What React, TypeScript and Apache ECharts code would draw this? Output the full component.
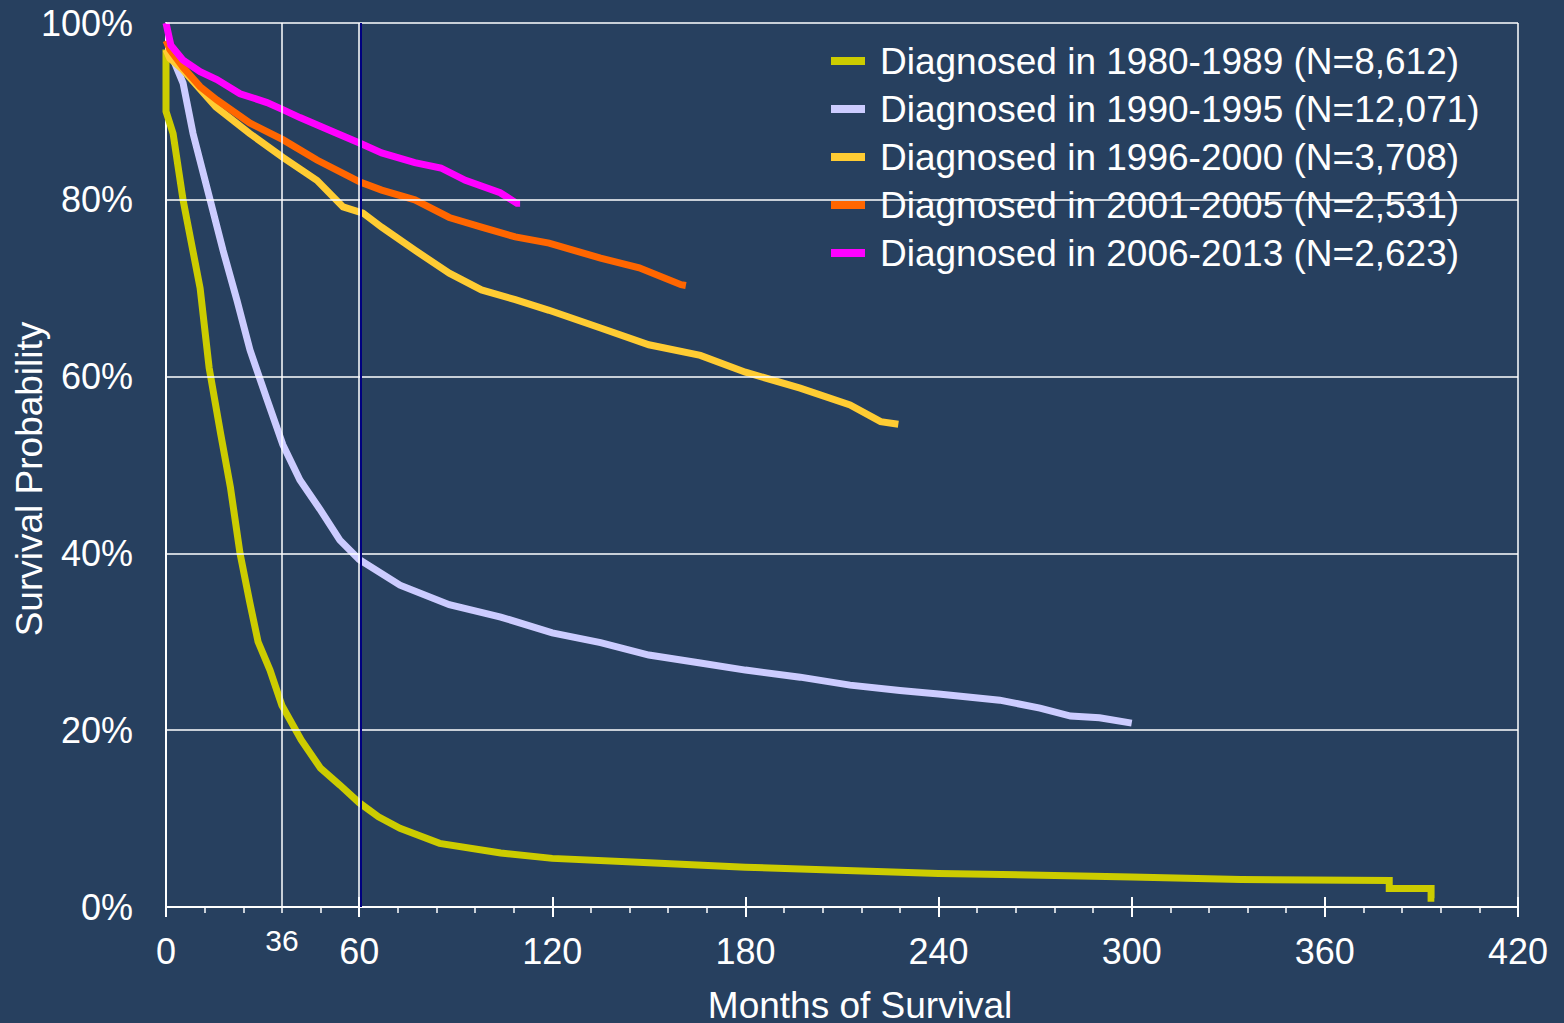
import React, { useEffect, useRef } from "react";
import * as echarts from "echarts";

const seriesNames = [
  "Diagnosed in 1980-1989 (N=8,612)",
  "Diagnosed in 1990-1995 (N=12,071)",
  "Diagnosed in 1996-2000 (N=3,708)",
  "Diagnosed in 2001-2005 (N=2,531)",
  "Diagnosed in 2006-2013 (N=2,623)",
];
const colors = ["#CCCC00", "#CCCCFF", "#FFCC33", "#FF6600", "#FF00FF"];

const months1980 = [0, 0, 2.2, 5.3, 10.6, 13.4, 17, 20, 23, 26, 28.6, 32.3, 36, 42, 48, 54, 60, 66, 72.7, 85, 104, 120, 150, 180, 240, 300, 334, 380, 380, 393, 393, 394];
const surv1980 = [97, 90, 87.5, 80, 70, 61, 53.5, 47.5, 40, 34.5, 30, 26.8, 22.8, 18.9, 15.7, 13.8, 11.8, 10.2, 8.9, 7.2, 6.1, 5.5, 5.0, 4.5, 3.8, 3.4, 3.1, 3.0, 2.1, 2.1, 1.0, 1.0];

const months1990 = [0, 1.2, 5.3, 8.4, 13.7, 17.7, 22, 26.1, 31.4, 36.3, 41.6, 47.8, 54, 60, 72.7, 88, 104, 120, 135, 150, 166, 180, 197, 212.5, 228, 240, 259, 271.5, 281, 290, 300];
const surv1990 = [97, 96.8, 93.2, 87.5, 80, 74.3, 68.7, 63, 57.4, 52.3, 48.3, 45, 41.5, 39.3, 36.4, 34.2, 32.8, 31, 29.9, 28.5, 27.6, 26.8, 26, 25.1, 24.5, 24.1, 23.4, 22.5, 21.6, 21.4, 20.8];

const months1996 = [0, 1.2, 5.3, 10.6, 15.5, 26, 36.3, 46.9, 55, 61.2, 67, 77.3, 88, 98, 108.5, 119, 135, 150, 166, 180, 197, 212.5, 222, 227.5];
const surv1996 = [97, 96, 94.7, 92.5, 90.5, 87.5, 84.8, 82.2, 79.2, 78.5, 76.9, 74.3, 71.7, 69.8, 68.7, 67.5, 65.5, 63.6, 62.4, 60.5, 58.7, 56.8, 54.9, 54.6];

const months2001 = [0, 1.2, 5.3, 10.6, 15.8, 26, 36.3, 46.9, 60.3, 67, 77.3, 88, 98, 108.5, 119, 135, 147, 160, 161.5];
const surv2001 = [98, 97, 95, 92.8, 91.3, 88.7, 86.8, 84.5, 82, 81.1, 80, 78, 76.9, 75.8, 75.1, 73.4, 72.3, 70.4, 70.3];

const months2006 = [0, 1.5, 5.3, 10.6, 15.8, 23, 31.4, 36.3, 41.6, 51.9, 60.3, 67, 77.3, 85.4, 93, 103.8, 109, 110];
const surv2006 = [100, 97.5, 95.8, 94.5, 93.6, 92, 91, 90.2, 89.3, 87.7, 86.4, 85.3, 84.2, 83.6, 82.2, 80.8, 79.6, 79.6];

const allMonths = [months1980, months1990, months1996, months2001, months2006];
const allSurv = [surv1980, surv1990, surv1996, surv2001, surv2006];

const yTicks = [20, 40, 60, 80, 100];
const markedMonths = [36, 60, 420];

const FONT = "'Liberation Sans', Arial, sans-serif";
const BG = "#27405F";

export default function App() {
  const ref = useRef<HTMLDivElement>(null);
  useEffect(() => {
    const chart = echarts.init(ref.current!, null, { renderer: "svg" });
    const dataSeries = seriesNames.map((name, i) => ({
      name,
      type: "line",
      data: allMonths[i].map((m, j) => [m, allSurv[i][j]]),
      showSymbol: false,
      symbol: "none",
      color: colors[i],
      lineStyle: { color: colors[i], width: 7, cap: "butt", join: "miter" },
      z: 2 + i * 0.01,
    }));
    const gridSeries = {
      name: "grid",
      type: "line",
      data: [],
      z: 10,
      silent: true,
      markLine: {
        silent: true,
        symbol: ["none", "none"],
        label: { show: false },
        lineStyle: { color: "#FFFFFF", width: 1.5, type: "solid" },
        data: [
          ...yTicks.map((v) => ({ yAxis: v })),
          ...markedMonths.map((v) => ({ xAxis: v })),
          { xAxis: 60.6, lineStyle: { color: "#000080", width: 2, type: "solid" } },
        ],
      },
    };
    const option: any = {
      animation: false,
      backgroundColor: BG,
      textStyle: { fontFamily: FONT },
      grid: {
        left: 166,
        top: 23,
        right: 46,
        bottom: 116,
        containLabel: false,
        outerBoundsMode: "none",
      },
      legend: {
        data: seriesNames,
        orient: "vertical",
        left: 826,
        top: 36,
        itemWidth: 34,
        itemHeight: 8,
        itemGap: 8,
        icon: "rect",
        z: 1,
        selectedMode: false,
        textStyle: {
          color: "#FFFFFF",
          fontSize: 37,
          fontFamily: FONT,
          lineHeight: 40,
          padding: [0, 0, 0, 10],
        },
      },
      xAxis: [
        {
          type: "value",
          min: 0,
          max: 420,
          interval: 60,
          position: "bottom",
          axisLine: { show: true, lineStyle: { color: "#FFFFFF", width: 2 } },
          axisTick: { show: true, length: 10, lineStyle: { color: "#FFFFFF", width: 2 } },
          minorTick: { show: true, splitNumber: 5, length: 6, lineStyle: { color: "#FFFFFF", width: 1.5 } },
          splitLine: { show: false },
          axisLabel: { color: "#FFFFFF", fontSize: 36, margin: 26, fontFamily: FONT },
          name: "Months of Survival",
          nameLocation: "middle",
          nameGap: 80,
          nameTextStyle: { color: "#FFFFFF", fontSize: 37, fontFamily: FONT, padding: [0, 0, 0, 36] },
        },
        {
          type: "value",
          min: 0,
          max: 420,
          interval: 60,
          position: "bottom",
          axisLine: { show: false },
          axisTick: { show: true, inside: true, length: 10, lineStyle: { color: "#FFFFFF", width: 2 } },
          splitLine: { show: false },
          axisLabel: { show: false },
        },
        {
          type: "value",
          min: 0,
          max: 420,
          position: "bottom",
          axisLine: { show: false },
          axisTick: { show: false },
          splitLine: { show: false },
          axisLabel: {
            show: true,
            customValues: [36],
            color: "#FFFFFF",
            fontSize: 30,
            margin: 18,
            fontFamily: FONT,
          },
        },
      ],
      yAxis: {
        type: "value",
        min: 0,
        max: 100,
        interval: 20,
        axisLine: { show: true, lineStyle: { color: "#FFFFFF", width: 2 } },
        axisTick: { show: false },
        splitLine: { show: false },
        axisLabel: { color: "#FFFFFF", fontSize: 36, margin: 33, formatter: "{value}%", fontFamily: FONT },
        name: "Survival Probability",
        nameLocation: "middle",
        nameGap: 118,
        nameMoveOverlap: false,
        nameTextStyle: { color: "#FFFFFF", fontSize: 37, fontFamily: FONT, padding: [0, 28, 0, 0] },
      },
      series: [...dataSeries, gridSeries],
    };
    chart.setOption(option);
    return () => chart.dispose();
  }, []);
  return (
    <div
      ref={ref}
      style={{ position: "absolute", left: 0, top: 0, width: 1564, height: 1023 }}
    />
  );
}
